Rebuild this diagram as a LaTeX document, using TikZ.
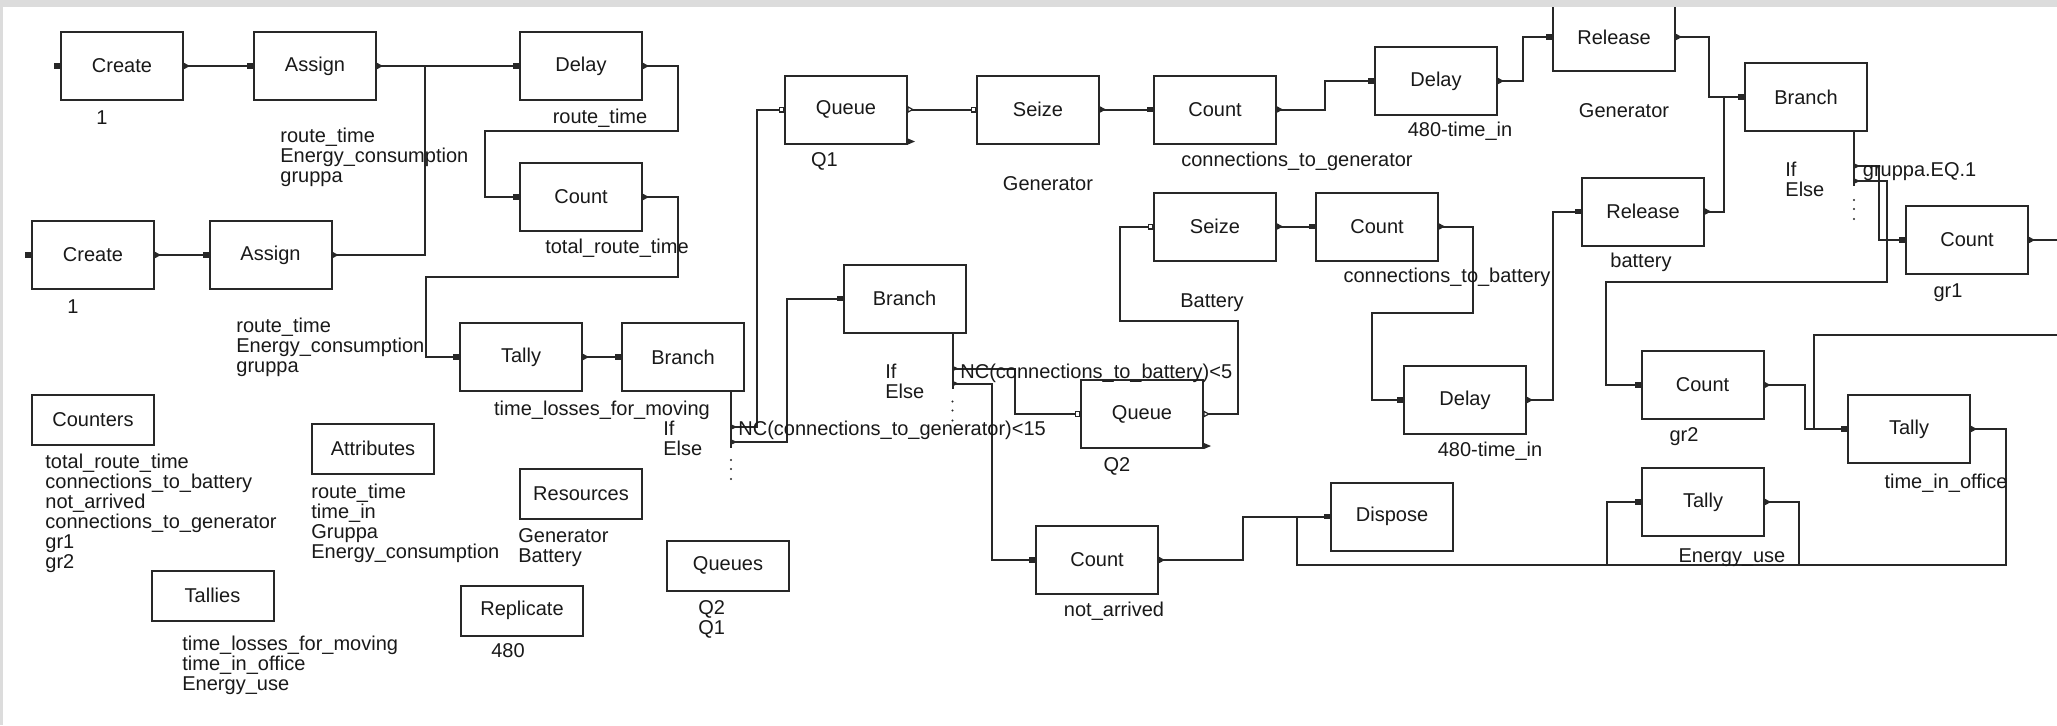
\documentclass[tikz,border=0pt]{standalone}
\usepackage{fontspec}
\setmainfont{Liberation Sans}
\definecolor{ink}{RGB}{40,40,40}
\definecolor{txt}{RGB}{25,25,25}
\definecolor{frame}{RGB}{220,220,220}
% entry / exit markers of the SIMAN blocks
\newcommand\BlkIn[1]{\fill[ink] ([xshift=-3pt,yshift=-1.4pt]#1.west) rectangle ([yshift=1.4pt]#1.west);}
\newcommand\BlkOut[1]{\fill[ink] ([yshift=1.6pt]#1.east) -- ([xshift=3pt]#1.east) -- ([yshift=-1.6pt]#1.east) -- cycle;}
\newcommand\BlkInHollow[1]{\draw[ink,line width=0.6pt,fill=white] ([xshift=-2.4pt,yshift=-1.2pt]#1.west) rectangle ([yshift=1.2pt]#1.west);}
\newcommand\BlkOutHollow[1]{\draw[ink,line width=0.6pt,fill=white] ([yshift=1.3pt]#1.east) -- ([xshift=2.4pt]#1.east) -- ([yshift=-1.3pt]#1.east) -- cycle;}
\newcommand\BlkBalk[1]{\fill[ink] ([yshift=3pt]#1.south east) -- ([xshift=3.5pt,yshift=1.5pt]#1.south east) -- (#1.south east) -- cycle;}
\newcommand\BrMark[1]{\fill[ink] ([yshift=1.4pt]#1) -- ([xshift=3pt]#1) -- ([yshift=-1.4pt]#1) -- cycle;}
\begin{document}
\begin{tikzpicture}[
  x=0.5pt, y=-0.5pt,
  blk/.style={draw=ink, line width=1pt, minimum width=61pt, minimum height=34pt,
              inner sep=0pt, font=\fontsize{10}{10}\selectfont, text=txt},
  dbox/.style={blk, minimum height=25pt},
  lbl/.style={inner sep=0pt, font=\fontsize{10}{10}\selectfont, text=txt},
  wire/.style={draw=ink, line width=1pt},
]
\useasboundingbox (0,0) rectangle (2057,725);
\fill[white] (0,0) rectangle (2057,725);

% ---------------- blocks ----------------
\node[blk] (create1) at (122,66) {Create};
\node[blk] (assign1) at (315,66) {Assign};
\node[blk] (delay1) at (581,66) {Delay};
\node[blk] (count1) at (581,197) {Count};
\node[blk] (create2) at (93,255) {Create};
\node[blk] (assign2) at (270.5,255) {Assign};
\node[blk] (tally1) at (521,357) {Tally};
\node[blk] (branch1) at (683,357) {Branch};
\node[blk] (queue1) at (846,109.5) {Queue};
\node[blk] (seize1) at (1038,109.5) {Seize};
\node[blk] (count2) at (1215,109.5) {Count};
\node[blk] (delay2) at (1436,81) {Delay};
\node[blk] (release1) at (1614,37) {Release};
\node[blk] (branch3) at (1806,97) {Branch};
\node[blk] (release2) at (1643,211.5) {Release};
\node[blk] (count3) at (1967,240) {Count};
\node[blk] (seize2) at (1215,226.5) {Seize};
\node[blk] (count6) at (1377,226.5) {Count};
\node[blk] (branch2) at (904.5,298.5) {Branch};
\node[blk] (queue2) at (1142,414) {Queue};
\node[blk] (delay3) at (1465,400) {Delay};
\node[blk] (count4) at (1702.5,385) {Count};
\node[blk] (tally2) at (1909,429) {Tally};
\node[blk] (tally3) at (1703,502) {Tally};
\node[blk] (dispose) at (1392,516.5) {Dispose};
\node[blk] (count5) at (1097,560) {Count};

% ---------------- data elements ----------------
\node[dbox] (counters) at (93,419.5) {Counters};
\node[dbox] (attributes) at (373,448.5) {Attributes};
\node[dbox] (tallies) at (212.5,595.5) {Tallies};
\node[dbox] (replicate) at (522,610.5) {Replicate};
\node[dbox] (resources) at (581,494) {Resources};
\node[dbox] (queues) at (728,565.5) {Queues};

% ---------------- branch exit points ----------------
\coordinate (b1top) at ([xshift=-7pt]branch1.south east);
\coordinate (b1if) at ([yshift=-17.5pt]b1top);
\coordinate (b1el) at ([yshift=-25pt]b1top);
\coordinate (b2top) at ([xshift=-7pt]branch2.south east);
\coordinate (b2if) at ([yshift=-17.5pt]b2top);
\coordinate (b2el) at ([yshift=-25pt]b2top);
\coordinate (b3top) at ([xshift=-7pt]branch3.south east);
\coordinate (b3if) at ([yshift=-17pt]b3top);
\coordinate (b3el) at ([yshift=-24.5pt]b3top);
\coordinate (jA) at (425,66);
\coordinate (edgeA) at (2057,240);
\coordinate (edgeB) at (2057,335);

% ---------------- connectors ----------------
\draw[wire] (create1.east) -- (assign1.west);
\draw[wire] (assign1.east) -- (delay1.west);
\draw[wire] (create2.east) -- (assign2.west);
\draw[wire] (assign2.east) -| (jA);
\draw[wire] (delay1.east) -- ++(35,0) |- (485,131) |- (count1.west);
\draw[wire] (count1.east) -- ++(35,0) |- (426,277) |- (tally1.west);
\draw[wire] (tally1.east) -- (branch1.west);
\draw[wire] (b1top) -- ++(0,56);
\draw[wire] (b1if) -| ([xshift=-13.5pt]queue1.west) -- (queue1.west);
\draw[wire] (b1el) -| ([xshift=-28pt]branch2.west) -- (branch2.west);
\draw[wire] (queue1.east) -- (seize1.west);
\draw[wire] (seize1.east) -- (count2.west);
\draw[wire] (count2.east) -| ([xshift=-24.5pt]delay2.west) -- (delay2.west);
\draw[wire] (delay2.east) -| ([xshift=-14.5pt]release1.west) -- (release1.west);
\draw[wire] (release1.east) -| ([xshift=-17.5pt]branch3.west) -- (branch3.west);
\draw[wire] (release2.east) -| ([xshift=-10pt]branch3.west);
\draw[wire] (b3top) -- ++(0,54);
\draw[wire] (b3if) -| ([xshift=-13pt]count3.west) -- (count3.west);
\draw[wire] (b3el) -| (1887,282) -| ([xshift=-17.5pt]count4.west) -- (count4.west);
\draw[wire] (count3.east) -- (edgeA);
\draw[wire] (count4.east) -| ([xshift=-21pt]tally2.west) -- (tally2.west);
\draw[wire] (edgeB) -| ([xshift=-16.75pt]tally2.west);
\draw[wire] (tally2.east) -- ++(34.6,0) |- (1296.5,565) |- (dispose.west);
\draw[wire] (1607,565) |- (tally3.west);
\draw[wire] (tally3.east) -| (1799,565);
\draw[wire] (count5.east) -| ([xshift=-43.5pt]dispose.west) -- (dispose.west);
\draw[wire] (b2top) -- ++(0,55);
\draw[wire] (b2if) -| ([xshift=-32.5pt]queue2.west) -- (queue2.west);
\draw[wire] (b2el) -| ([xshift=-21.5pt]count5.west) -- (count5.west);
\draw[wire] (queue2.east) -- ++(34,0) |- (1120,321) |- (seize2.west);
\draw[wire] (seize2.east) -- (count6.west);
\draw[wire] (count6.east) -- ++(34,0) |- (1371.5,313) |- (delay3.west);
\draw[wire] (delay3.east) -| ([xshift=-14pt]release2.west) -- (release2.west);

% ---------------- markers ----------------
\foreach \b in {create1,assign1,delay1,count1,create2,assign2,tally1,branch1,
  count2,delay2,release1,branch3,release2,count3,count6,branch2,delay3,count4,
  tally2,tally3,dispose,count5} {\BlkIn{\b}}
\foreach \b in {create1,assign1,delay1,count1,create2,assign2,tally1,seize1,
  count2,delay2,release1,release2,count3,seize2,count6,delay3,count4,tally2,
  tally3,count5} {\BlkOut{\b}}
\foreach \b in {queue1,seize1,queue2,seize2} {\BlkInHollow{\b}}
\foreach \b in {queue1,queue2} {\BlkOutHollow{\b}\BlkBalk{\b}}
\foreach \c in {b1if,b1el,b2if,b2el,b3if,b3el} {\BrMark{\c}}
\foreach \c in {b1top,b2top,b3top} {
  \foreach \d in {34,38.5,43.5} {\fill[ink] ([yshift=-\d pt]\c) circle (0.6pt);}
}

% ---------------- block operands ----------------
\node[lbl, anchor=base] (lc1) at (102,124) {1};
\node[lbl, anchor=base] (lc2) at (73,313) {1};
\foreach \t [count=\i from 0] in {route\_time, Energy\_consumption, gruppa}
  \node[lbl, anchor=base west] (la1\i) at (280,{142+20*\i}) {\t};
\foreach \t [count=\i from 0] in {route\_time, Energy\_consumption, gruppa}
  \node[lbl, anchor=base west] (la2\i) at (236,{332+20*\i}) {\t};
\node[lbl, anchor=base] (ld1) at (600,123) {route\_time};
\node[lbl, anchor=base] (lk1) at (617,253) {total\_route\_time};
\node[lbl, anchor=base] (lt1) at (602,415) {time\_losses\_for\_moving};
\node[lbl, anchor=base west] (lb1i) at (663,435) {If};
\node[lbl, anchor=base west] (lb1e) at (663,455) {Else};
\node[lbl, anchor=base west] (lb1c) at (738,435) {NC(connections\_to\_generator)<15};
\node[lbl, anchor=base] (lq1) at (824.5,166) {Q1};
\node[lbl, anchor=base] (ls1) at (1048,190) {Generator};
\node[lbl, anchor=base] (lk2) at (1297,166) {connections\_to\_generator};
\node[lbl, anchor=base] (ld2) at (1460,136) {480-time\_in};
\node[lbl, anchor=base] (lr1) at (1624,117) {Generator};
\node[lbl, anchor=base west] (lb3i) at (1785,176) {If};
\node[lbl, anchor=base west] (lb3e) at (1785,196) {Else};
\node[lbl, anchor=base west] (lb3c) at (1862.5,176) {gruppa.EQ.1};
\node[lbl, anchor=base] (lr2) at (1641,267) {battery};
\node[lbl, anchor=base] (lk3) at (1948,297) {gr1};
\node[lbl, anchor=base] (ls2) at (1212,307) {Battery};
\node[lbl, anchor=base] (lk6) at (1447,282) {connections\_to\_battery};
\node[lbl, anchor=base west] (lb2i) at (885,378) {If};
\node[lbl, anchor=base west] (lb2e) at (885,398) {Else};
\node[lbl, anchor=base west] (lb2c) at (960,378) {NC(connections\_to\_battery)<5};
\node[lbl, anchor=base] (lq2) at (1117,471) {Q2};
\node[lbl, anchor=base] (ld3) at (1490,456) {480-time\_in};
\node[lbl, anchor=base] (lk4) at (1684,441) {gr2};
\node[lbl, anchor=base] (lt2) at (1946,488) {time\_in\_office};
\node[lbl, anchor=base] (lt3) at (1732,562) {Energy\_use};
\node[lbl, anchor=base] (lk5) at (1114,616) {not\_arrived};

% ---------------- element lists ----------------
\foreach \t [count=\i from 0] in {total\_route\_time, connections\_to\_battery,
  not\_arrived, connections\_to\_generator, gr1, gr2}
  \node[lbl, anchor=base west] (lctr\i) at (45,{468+20*\i}) {\t};
\foreach \t [count=\i from 0] in {route\_time, time\_in, Gruppa, Energy\_consumption}
  \node[lbl, anchor=base west] (latt\i) at (311,{498+20*\i}) {\t};
\foreach \t [count=\i from 0] in {time\_losses\_for\_moving, time\_in\_office, Energy\_use}
  \node[lbl, anchor=base west] (ltal\i) at (182,{650+20*\i}) {\t};
\node[lbl, anchor=base] (lrep) at (508,657) {480};
\foreach \t [count=\i from 0] in {Generator, Battery}
  \node[lbl, anchor=base west] (lres\i) at (518,{542+20*\i}) {\t};
\foreach \t [count=\i from 0] in {Q2, Q1}
  \node[lbl, anchor=base west] (lque\i) at (698,{614+20*\i}) {\t};

% ---------------- window frame ----------------
\fill[frame] (0,0) rectangle (2057,7);
\fill[frame] (0,0) rectangle (3,725);
\end{tikzpicture}
\end{document}
